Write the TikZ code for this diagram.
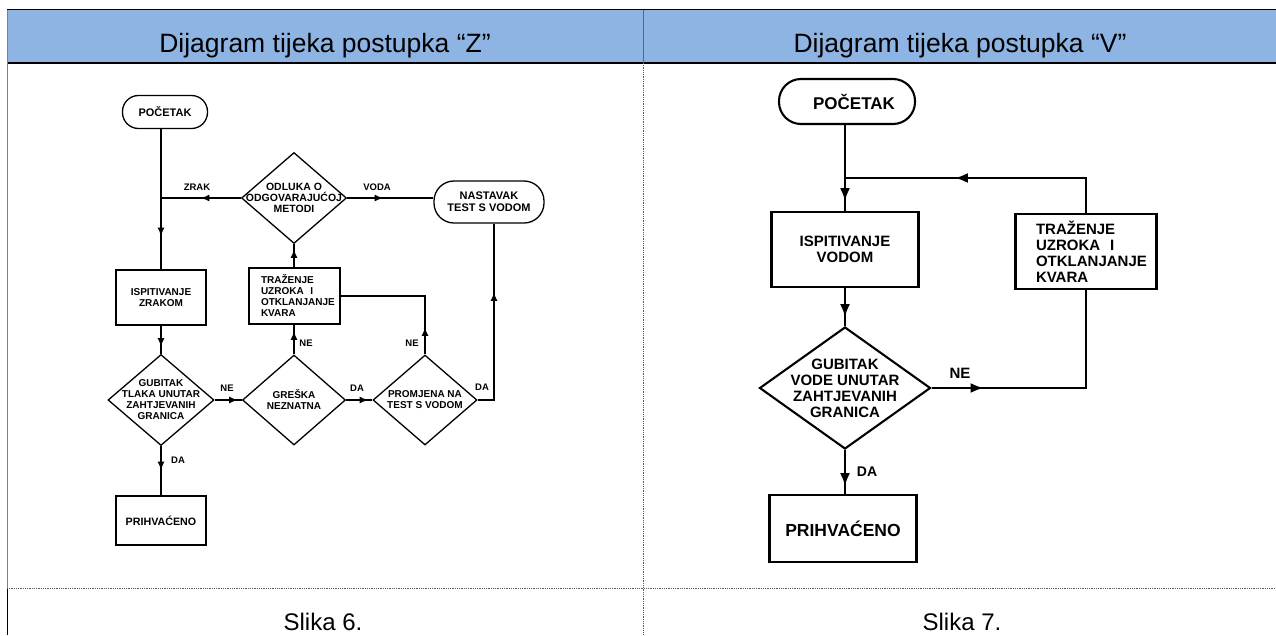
\documentclass[tikz,border=0pt]{standalone}
\usepackage{fontspec}
\setmainfont{Liberation Sans}
\usetikzlibrary{positioning,shapes.geometric,arrows.meta,decorations.markings}
\definecolor{headblue}{HTML}{8EB4E3}
\tikzset{
  lline/.style={draw=black,line width=1.3pt},
  rline/.style={draw=black,line width=2.1pt},
  lmid/.style={postaction={decorate},decoration={markings,mark=at position #1 with {\arrow{Latex[length=8.5pt,width=7pt]}}}},
  rmid/.style={postaction={decorate},decoration={markings,mark=at position #1 with {\arrow{Latex[length=13pt,width=10pt]}}}},
  ltxt/.style={font=\fontsize{10}{11}\selectfont\bfseries,align=center,inner sep=0pt},
  rtxt/.style={font=\fontsize{15}{16}\selectfont\bfseries,align=center,inner sep=0pt},
  lbox/.style={lline,rectangle,inner sep=0pt,ltxt},
  rbox/.style={rline,rectangle,inner sep=0pt,rtxt},
  lterm/.style={lbox,rounded corners=#1},
  rterm/.style={rbox,rounded corners=#1},
  ldec/.style={lline,diamond,inner sep=0pt},
  rdec/.style={rline,diamond,inner sep=0pt},
  llab/.style={font=\fontsize{9.5}{10}\selectfont\bfseries,inner sep=0pt},
  rlab/.style={font=\fontsize{15}{16}\selectfont\bfseries,inner sep=0pt},
  headtxt/.style={font=\fontsize{26.5}{30}\selectfont,anchor=base,inner sep=0pt},
  figtxt/.style={font=\fontsize{24}{28}\selectfont,anchor=base,inner sep=0pt}
}
\begin{document}
\begin{tikzpicture}[x=1pt,y=-1pt]
\useasboundingbox (0,0) rectangle (1276,635);
% table
\fill[headblue] (7,9.5) rectangle (1276,63);
\draw[line width=1.2pt] (7,9.5) -- (1276,9.5);
\draw[line width=1.2pt] (7,63) -- (1276,63);
\draw[gray!80!black,line width=0.6pt] (643,9.5) -- (643,63);
\draw[gray,line width=1pt] (7,9.5) -- (7,588);
\draw[black,line width=1pt] (7,588) -- (7,635);
\draw[gray!70!black,line width=0.8pt,densely dotted] (643,63) -- (643,635);
\draw[gray!70!black,line width=0.8pt,densely dotted] (7,588) -- (1276,588);
\node[headtxt] (headZ) at (325,52) {Dijagram tijeka postupka “Z”};
\node[headtxt] (headV) at (960,52) {Dijagram tijeka postupka “V”};
\node[figtxt] (fig6) at (323,630) {Slika 6.};
\node[figtxt] (fig7) at (962,630) {Slika 7.};

% postupak Z
\node[lterm=16pt,minimum width=85pt,minimum height=33pt,font=\fontsize{11}{12}\selectfont\bfseries] (Lstart) at (165,112) {POČETAK};
\node[ldec,minimum width=105pt,minimum height=91pt,label={[ltxt,font=\fontsize{10.5}{10.8}\selectfont\bfseries]center:{ODLUKA O\\ODGOVARAJUĆOJ\\METODI}}] (Lodl) at (294,198) {};
\node[lterm=20pt,minimum width=110pt,minimum height=42pt,font=\fontsize{11}{12}\selectfont\bfseries] (Lnast) at (489,202) {NASTAVAK\\TEST S VODOM};
\node[lbox,minimum width=90pt,minimum height=55pt] (Lisp) at (161,297.5) {ISPITIVANJE\\ZRAKOM};
\node[lbox,minimum width=91pt,minimum height=56pt,text width=67pt,align=left] (Ltraz) at (294.5,296) {TRAŽENJE\\UZROKA~~I\\OTKLANJANJE\\KVARA};
\node[ldec,minimum width=106pt,minimum height=91pt,label={[ltxt]center:{GUBITAK\\TLAKA UNUTAR\\ZAHTJEVANIH\\GRANICA}}] (Lgub) at (161,400) {};
\node[ldec,minimum width=103pt,minimum height=90pt,label={[ltxt]center:{GREŠKA\\NEZNATNA}}] (Lgres) at (294,400) {};
\node[ldec,minimum width=104pt,minimum height=90pt,label={[ltxt]center:{PROMJENA NA\\TEST S VODOM}}] (Lprom) at (425,400) {};
\node[lbox,minimum width=90pt,minimum height=49pt,font=\fontsize{10.7}{12}\selectfont\bfseries] (Lprih) at (161,520.5) {PRIHVAĆENO};

\draw[lline,lmid=107pt] (Lstart.south -| Lisp.north) -- (Lisp.north);
\draw[lline,lmid=40pt] (Lodl.west) -- (Lodl.west -| Lisp.north);
\draw[lline,lmid=36pt] (Lodl.east) -- (Lodl.east -| Lnast.west);
\draw[lline,lmid=124pt] (Lprom.east) -| ([xshift=5pt]Lnast.south);
\draw[lline,lmid=23pt] (Lgres.north) -- (Lgres.north |- Ltraz.south);
\draw[lline,lmid=18pt] (Lodl.south |- Ltraz.north) -- (Lodl.south);
\draw[lline,lmid=27pt] (Lprom.north) |- (Ltraz.east);
\draw[lline,lmid=21pt] (Lisp.south) -- (Lgub.north);
\draw[lline,lmid=23pt] (Lgub.east) -- (Lgres.west);
\draw[lline,lmid=22pt] (Lgres.east) -- (Lprom.west);
\draw[lline,lmid=24pt] (Lgub.south) -- (Lprih.north);

\node[llab] (lzrak) at (197,187) {ZRAK};
\node[llab] (lvoda) at (377,187) {VODA};
\node[llab] (lne1) at (227,388) {NE};
\node[llab] (lda1) at (357,388) {DA};
\node[llab] (lda2) at (482,387) {DA};
\node[llab] (lne2) at (412,343) {NE};
\node[llab] (lne3) at (306,343) {NE};
\node[llab] (lda3) at (178,460) {DA};

% postupak V
\node[rterm=22pt,minimum width=136pt,minimum height=45pt,font=\fontsize{17}{18}\selectfont\bfseries] (Rstart) at (847,101.5) {\hspace*{14pt}POČETAK};
\node[rbox,minimum width=147pt,minimum height=75pt] (Risp) at (845,249.5) {ISPITIVANJE\\VODOM};
\node[rbox,minimum width=141pt,minimum height=75pt,text width=100pt,align=left] (Rtraz) at (1086,251.5) {TRAŽENJE\\UZROKA~~I\\OTKLANJANJE\\KVARA};
\node[rdec,minimum width=171pt,minimum height=122pt,label={[rtxt]center:{GUBITAK\\VODE UNUTAR\\ZAHTJEVANIH\\GRANICA}}] (Rgub) at (845,388) {};
\node[rbox,minimum width=147pt,minimum height=67pt,font=\fontsize{17.5}{19}\selectfont\bfseries] (Rprih) at (843,528.5) {PRIHVAĆENO};
\coordinate (Rjoin) at (845,178);

\draw[rline,rmid=76pt] (Rstart.south -| Risp.north) -- (Risp.north);
\draw[rline,rmid=166pt] (Rtraz.north) |- (Rjoin);
\draw[rline,rmid=29pt] (Risp.south) -- (Rgub.north);
\draw[rline,rmid=52pt] (Rgub.east) -| (Rtraz.south);
\draw[rline,rmid=36pt] (Rgub.south) -- (Rgub.south |- Rprih.north);

\node[rlab] (rne) at (960,373) {NE};
\node[rlab,font=\fontsize{14}{15}\selectfont\bfseries] (rda) at (867,472) {DA};
\end{tikzpicture}
\end{document}
